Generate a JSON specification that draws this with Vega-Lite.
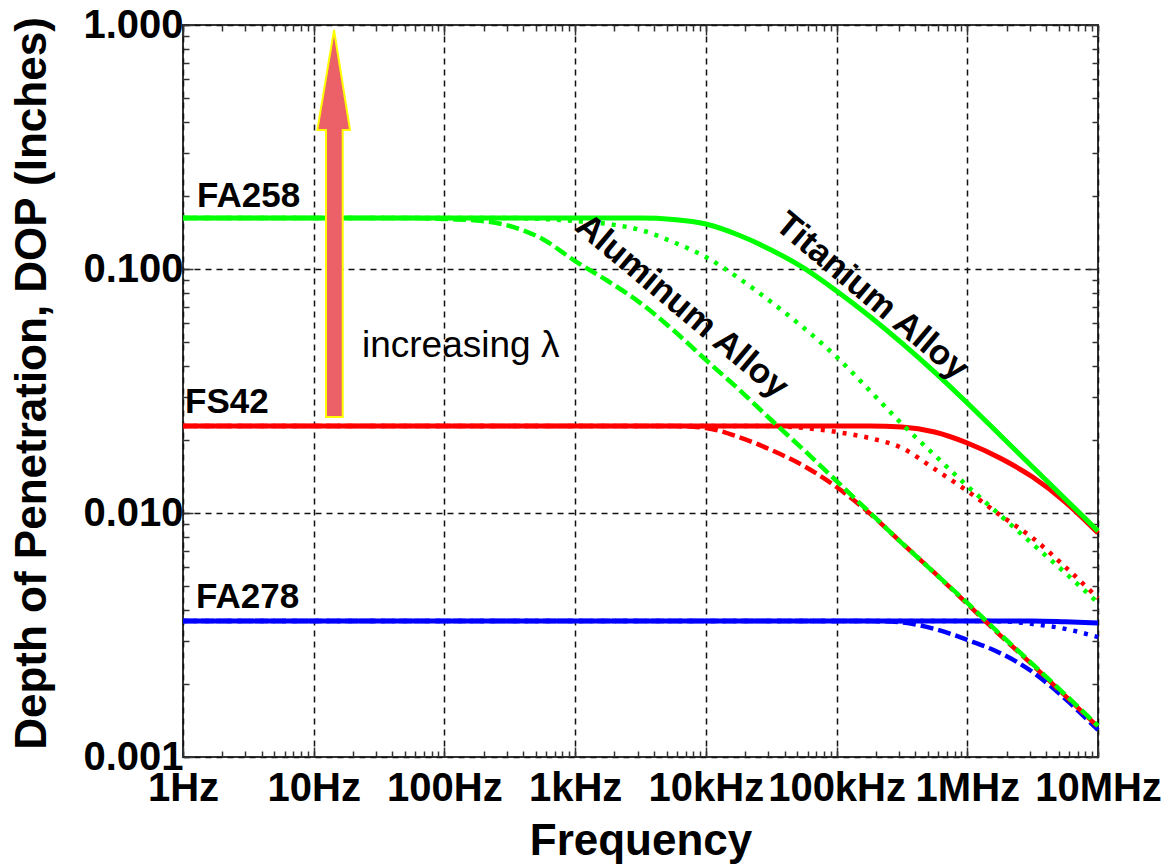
{
  "$schema": "https://vega.github.io/schema/vega-lite/v6.json",
  "width": 915,
  "height": 732,
  "autosize": {"type": "none"},
  "padding": {"left": 183, "top": 25, "right": 74, "bottom": 108},
  "background": "white",
  "config": {
    "view": {"stroke": "#333333", "strokeWidth": 2},
    "font": "Liberation Sans"
  },
  "datasets": {
    "curves": [
      {"probe": "FA278", "alloy": "Aluminum", "f": 1, "dop": 0.00361},
      {"probe": "FA278", "alloy": "Aluminum", "f": 177827.9, "dop": 0.00361},
      {"probe": "FA278", "alloy": "Aluminum", "f": 316227.8, "dop": 0.00356},
      {"probe": "FA278", "alloy": "Aluminum", "f": 562341.3, "dop": 0.00335},
      {"probe": "FA278", "alloy": "Aluminum", "f": 1000000, "dop": 0.00302},
      {"probe": "FA278", "alloy": "Aluminum", "f": 1778279, "dop": 0.00267},
      {"probe": "FA278", "alloy": "Aluminum", "f": 3162278, "dop": 0.00223},
      {"probe": "FA278", "alloy": "Aluminum", "f": 5623413, "dop": 0.00173},
      {"probe": "FA278", "alloy": "Aluminum", "f": 10000000, "dop": 0.00129},

      {"probe": "FA278", "alloy": "Intermediate", "f": 1, "dop": 0.00361},
      {"probe": "FA278", "alloy": "Intermediate", "f": 1000000, "dop": 0.00361},
      {"probe": "FA278", "alloy": "Intermediate", "f": 1778279, "dop": 0.0036},
      {"probe": "FA278", "alloy": "Intermediate", "f": 3162278, "dop": 0.00351},
      {"probe": "FA278", "alloy": "Intermediate", "f": 5623413, "dop": 0.00335},
      {"probe": "FA278", "alloy": "Intermediate", "f": 10000000, "dop": 0.0031},

      {"probe": "FA278", "alloy": "Titanium", "f": 1, "dop": 0.00361},
      {"probe": "FA278", "alloy": "Titanium", "f": 3162278, "dop": 0.00361},
      {"probe": "FA278", "alloy": "Titanium", "f": 5623413, "dop": 0.00358},
      {"probe": "FA278", "alloy": "Titanium", "f": 10000000, "dop": 0.00354},

      {"probe": "FS42", "alloy": "Aluminum", "f": 1, "dop": 0.02273},
      {"probe": "FS42", "alloy": "Aluminum", "f": 5623.4, "dop": 0.02273},
      {"probe": "FS42", "alloy": "Aluminum", "f": 10000, "dop": 0.02231},
      {"probe": "FS42", "alloy": "Aluminum", "f": 17782.8, "dop": 0.02049},
      {"probe": "FS42", "alloy": "Aluminum", "f": 31622.8, "dop": 0.01812},
      {"probe": "FS42", "alloy": "Aluminum", "f": 56234.1, "dop": 0.01558},
      {"probe": "FS42", "alloy": "Aluminum", "f": 100000, "dop": 0.01278},
      {"probe": "FS42", "alloy": "Aluminum", "f": 177827.9, "dop": 0.01},
      {"probe": "FS42", "alloy": "Aluminum", "f": 316227.8, "dop": 0.00753},
      {"probe": "FS42", "alloy": "Aluminum", "f": 562341.3, "dop": 0.00568},
      {"probe": "FS42", "alloy": "Aluminum", "f": 1000000, "dop": 0.00424},
      {"probe": "FS42", "alloy": "Aluminum", "f": 1778279, "dop": 0.00316},
      {"probe": "FS42", "alloy": "Aluminum", "f": 3162278, "dop": 0.00238},
      {"probe": "FS42", "alloy": "Aluminum", "f": 5623413, "dop": 0.00178},
      {"probe": "FS42", "alloy": "Aluminum", "f": 10000000, "dop": 0.00133},

      {"probe": "FS42", "alloy": "Intermediate", "f": 1, "dop": 0.02273},
      {"probe": "FS42", "alloy": "Intermediate", "f": 31622.8, "dop": 0.02273},
      {"probe": "FS42", "alloy": "Intermediate", "f": 56234.1, "dop": 0.02231},
      {"probe": "FS42", "alloy": "Intermediate", "f": 100000, "dop": 0.02148},
      {"probe": "FS42", "alloy": "Intermediate", "f": 177827.9, "dop": 0.0203},
      {"probe": "FS42", "alloy": "Intermediate", "f": 316227.8, "dop": 0.01847},
      {"probe": "FS42", "alloy": "Intermediate", "f": 562341.3, "dop": 0.01515},
      {"probe": "FS42", "alloy": "Intermediate", "f": 1000000, "dop": 0.01231},
      {"probe": "FS42", "alloy": "Intermediate", "f": 1778279, "dop": 0.00981},
      {"probe": "FS42", "alloy": "Intermediate", "f": 3162278, "dop": 0.0079},
      {"probe": "FS42", "alloy": "Intermediate", "f": 5623413, "dop": 0.00601},
      {"probe": "FS42", "alloy": "Intermediate", "f": 10000000, "dop": 0.00448},

      {"probe": "FS42", "alloy": "Titanium", "f": 1, "dop": 0.02273},
      {"probe": "FS42", "alloy": "Titanium", "f": 177827.9, "dop": 0.02273},
      {"probe": "FS42", "alloy": "Titanium", "f": 316227.8, "dop": 0.02252},
      {"probe": "FS42", "alloy": "Titanium", "f": 562341.3, "dop": 0.02148},
      {"probe": "FS42", "alloy": "Titanium", "f": 1000000, "dop": 0.01936},
      {"probe": "FS42", "alloy": "Titanium", "f": 1778279, "dop": 0.0168},
      {"probe": "FS42", "alloy": "Titanium", "f": 3162278, "dop": 0.01404},
      {"probe": "FS42", "alloy": "Titanium", "f": 5623413, "dop": 0.01109},
      {"probe": "FS42", "alloy": "Titanium", "f": 10000000, "dop": 0.00828},

      {"probe": "FA258", "alloy": "Aluminum", "f": 1, "dop": 0.1618},
      {"probe": "FA258", "alloy": "Aluminum", "f": 56.23, "dop": 0.1618},
      {"probe": "FA258", "alloy": "Aluminum", "f": 100, "dop": 0.1603},
      {"probe": "FA258", "alloy": "Aluminum", "f": 177.83, "dop": 0.158},
      {"probe": "FA258", "alloy": "Aluminum", "f": 316.23, "dop": 0.15},
      {"probe": "FA258", "alloy": "Aluminum", "f": 562.34, "dop": 0.1327},
      {"probe": "FA258", "alloy": "Aluminum", "f": 1000, "dop": 0.1078},
      {"probe": "FA258", "alloy": "Aluminum", "f": 1778.3, "dop": 0.0893},
      {"probe": "FA258", "alloy": "Aluminum", "f": 3162.3, "dop": 0.0725},
      {"probe": "FA258", "alloy": "Aluminum", "f": 5623.4, "dop": 0.0562},
      {"probe": "FA258", "alloy": "Aluminum", "f": 10000, "dop": 0.0424},
      {"probe": "FA258", "alloy": "Aluminum", "f": 17782.8, "dop": 0.0322},
      {"probe": "FA258", "alloy": "Aluminum", "f": 31622.8, "dop": 0.02405},
      {"probe": "FA258", "alloy": "Aluminum", "f": 56234.1, "dop": 0.01812},
      {"probe": "FA258", "alloy": "Aluminum", "f": 100000, "dop": 0.01352},
      {"probe": "FA258", "alloy": "Aluminum", "f": 177827.9, "dop": 0.01009},
      {"probe": "FA258", "alloy": "Aluminum", "f": 316227.8, "dop": 0.00753},
      {"probe": "FA258", "alloy": "Aluminum", "f": 562341.3, "dop": 0.00568},
      {"probe": "FA258", "alloy": "Aluminum", "f": 1000000, "dop": 0.00428},
      {"probe": "FA258", "alloy": "Aluminum", "f": 1778279, "dop": 0.00319},
      {"probe": "FA258", "alloy": "Aluminum", "f": 3162278, "dop": 0.0024},
      {"probe": "FA258", "alloy": "Aluminum", "f": 5623413, "dop": 0.0018},
      {"probe": "FA258", "alloy": "Aluminum", "f": 10000000, "dop": 0.00134},

      {"probe": "FA258", "alloy": "Intermediate", "f": 1, "dop": 0.1618},
      {"probe": "FA258", "alloy": "Intermediate", "f": 316.23, "dop": 0.1618},
      {"probe": "FA258", "alloy": "Intermediate", "f": 562.34, "dop": 0.1603},
      {"probe": "FA258", "alloy": "Intermediate", "f": 1000, "dop": 0.1573},
      {"probe": "FA258", "alloy": "Intermediate", "f": 1778.3, "dop": 0.1529},
      {"probe": "FA258", "alloy": "Intermediate", "f": 3162.3, "dop": 0.1445},
      {"probe": "FA258", "alloy": "Intermediate", "f": 5623.4, "dop": 0.129},
      {"probe": "FA258", "alloy": "Intermediate", "f": 10000, "dop": 0.112},
      {"probe": "FA258", "alloy": "Intermediate", "f": 17782.8, "dop": 0.0919},
      {"probe": "FA258", "alloy": "Intermediate", "f": 31622.8, "dop": 0.0732},
      {"probe": "FA258", "alloy": "Intermediate", "f": 56234.1, "dop": 0.0573},
      {"probe": "FA258", "alloy": "Intermediate", "f": 100000, "dop": 0.0436},
      {"probe": "FA258", "alloy": "Intermediate", "f": 177827.9, "dop": 0.0319},
      {"probe": "FA258", "alloy": "Intermediate", "f": 316227.8, "dop": 0.02316},
      {"probe": "FA258", "alloy": "Intermediate", "f": 562341.3, "dop": 0.01728},
      {"probe": "FA258", "alloy": "Intermediate", "f": 1000000, "dop": 0.0129},
      {"probe": "FA258", "alloy": "Intermediate", "f": 1778279, "dop": 0.00981},
      {"probe": "FA258", "alloy": "Intermediate", "f": 3162278, "dop": 0.00746},
      {"probe": "FA258", "alloy": "Intermediate", "f": 5623413, "dop": 0.00568},
      {"probe": "FA258", "alloy": "Intermediate", "f": 10000000, "dop": 0.00428},

      {"probe": "FA258", "alloy": "Titanium", "f": 1, "dop": 0.1618},
      {"probe": "FA258", "alloy": "Titanium", "f": 3162.3, "dop": 0.1618},
      {"probe": "FA258", "alloy": "Titanium", "f": 5623.4, "dop": 0.1596},
      {"probe": "FA258", "alloy": "Titanium", "f": 10000, "dop": 0.1529},
      {"probe": "FA258", "alloy": "Titanium", "f": 17782.8, "dop": 0.1378},
      {"probe": "FA258", "alloy": "Titanium", "f": 31622.8, "dop": 0.1197},
      {"probe": "FA258", "alloy": "Titanium", "f": 56234.1, "dop": 0.1009},
      {"probe": "FA258", "alloy": "Titanium", "f": 100000, "dop": 0.0813},
      {"probe": "FA258", "alloy": "Titanium", "f": 177827.9, "dop": 0.0642},
      {"probe": "FA258", "alloy": "Titanium", "f": 316227.8, "dop": 0.0497},
      {"probe": "FA258", "alloy": "Titanium", "f": 562341.3, "dop": 0.0378},
      {"probe": "FA258", "alloy": "Titanium", "f": 1000000, "dop": 0.02824},
      {"probe": "FA258", "alloy": "Titanium", "f": 1778279, "dop": 0.02088},
      {"probe": "FA258", "alloy": "Titanium", "f": 3162278, "dop": 0.01543},
      {"probe": "FA258", "alloy": "Titanium", "f": 5623413, "dop": 0.01141},
      {"probe": "FA258", "alloy": "Titanium", "f": 10000000, "dop": 0.00844}
    ],
    "arrow": [
      {"f": 12.42, "f2": 16.67, "dop": 0.02473},
      {"f": 12.42, "f2": 16.67, "dop": 0.3713},
      {"f": 10.66, "f2": 18.96, "dop": 0.3716},
      {"f": 14.3, "f2": 14.3, "dop": 0.954}
    ],
    "probes": [
      {"f": 1.28, "dop": 0.1795, "text": "FA258"},
      {"f": 1.036, "dop": 0.0257, "text": "FS42"},
      {"f": 1.257, "dop": 0.00408, "text": "FA278"}
    ],
    "note": [
      {"f": 23.4, "dop": 0.0436, "text": "increasing λ"}
    ],
    "aluminum": [
      {"f": 6577, "dop": 0.0705, "text": "Aluminum Alloy"}
    ],
    "titanium": [
      {"f": 187000, "dop": 0.0775, "text": "Titanium Alloy"}
    ]
  },
  "layer": [
    {
      "encoding": {
        "x": {
          "field": "f",
          "type": "quantitative",
          "scale": {"type": "log", "domain": [1, 10000000], "nice": false},
          "axis": {
            "orient": "bottom",
            "values": [1,2,3,4,5,6,7,8,9,10,20,30,40,50,60,70,80,90,100,200,300,400,500,600,700,800,900,1000,2000,3000,4000,5000,6000,7000,8000,9000,10000,20000,30000,40000,50000,60000,70000,80000,90000,100000,200000,300000,400000,500000,600000,700000,800000,900000,1000000,2000000,3000000,4000000,5000000,6000000,7000000,8000000,9000000,10000000],
            "labelExpr": "abs(log(datum.value)/LN10 - round(log(datum.value)/LN10)) < 0.000001 ? ['1Hz','10Hz','100Hz','1kHz','10kHz','100kHz','1MHz','10MHz'][round(log(datum.value)/LN10)] : ''",
            "labelFont": "Liberation Sans",
            "labelFontWeight": "bold",
            "labelFontSize": 40,
            "labelColor": "black",
            "labelPadding": 21,
            "labelOverlap": false,
            "labelFlush": false,
            "labelBound": false,
            "domain": false,
            "tickColor": "#333333",
            "tickWidth": 1.5,
            "tickSize": {"condition": {"test": "abs(log(datum.value)/LN10 - round(log(datum.value)/LN10)) < 0.000001", "value": -10}, "value": -6},
            "grid": true,
            "gridColor": "#111111",
            "gridDash": [6, 5],
            "gridWidth": 1.5,
            "gridOpacity": {"condition": {"test": "abs(log(datum.value)/LN10 - round(log(datum.value)/LN10)) < 0.000001", "value": 1}, "value": 0},
            "title": "Frequency",
            "titleFont": "Liberation Sans",
            "titleFontWeight": "bold",
            "titleFontSize": 44,
            "titleColor": "black",
            "titleBaseline": "alphabetic",
            "titleY": 97
          }
        },
        "y": {
          "field": "dop",
          "type": "quantitative",
          "scale": {"type": "log", "domain": [0.001, 1], "nice": false},
          "axis": {
            "orient": "left",
            "values": [0.001,0.002,0.003,0.004,0.005,0.006,0.007,0.008,0.009,0.01,0.02,0.03,0.04,0.05,0.06,0.07,0.08,0.09,0.1,0.2,0.3,0.4,0.5,0.6,0.7,0.8,0.9,1],
            "labelExpr": "abs(log(datum.value)/LN10 - round(log(datum.value)/LN10)) < 0.000001 ? format(datum.value, '.3f') : ''",
            "labelFont": "Liberation Sans",
            "labelFontWeight": "bold",
            "labelFontSize": 40,
            "labelColor": "black",
            "labelPadding": 10,
            "labelOverlap": false,
            "labelFlush": false,
            "labelBound": false,
            "domain": false,
            "tickColor": "#333333",
            "tickWidth": 1.5,
            "tickSize": {"condition": {"test": "abs(log(datum.value)/LN10 - round(log(datum.value)/LN10)) < 0.000001", "value": -10}, "value": -6},
            "grid": true,
            "gridColor": "#111111",
            "gridDash": [6, 5],
            "gridWidth": 1.5,
            "gridOpacity": {"condition": {"test": "abs(log(datum.value)/LN10 - round(log(datum.value)/LN10)) < 0.000001", "value": 1}, "value": 0},
            "title": "Depth of Penetration, DOP (Inches)",
            "titleFont": "Liberation Sans",
            "titleFontWeight": "bold",
            "titleFontSize": 44,
            "titleColor": "black",
            "titleBaseline": "alphabetic",
            "titleX": -138,
            "titleY": 358
          }
        }
      },
      "layer": [
        {"data": {"name": "curves"}, "transform": [{"filter": "datum.probe === 'FA278' && datum.alloy === 'Aluminum'"}],
         "mark": {"type": "line", "color": "#0000ff", "strokeWidth": 4.5, "strokeDash": [13, 5], "interpolate": "monotone"}},
        {"data": {"name": "curves"}, "transform": [{"filter": "datum.probe === 'FA278' && datum.alloy === 'Intermediate'"}],
         "mark": {"type": "line", "color": "#0000ff", "strokeWidth": 4.5, "strokeDash": [4, 7], "interpolate": "monotone"}},
        {"data": {"name": "curves"}, "transform": [{"filter": "datum.probe === 'FA278' && datum.alloy === 'Titanium'"}],
         "mark": {"type": "line", "color": "#0000ff", "strokeWidth": 5, "interpolate": "monotone"}},
        {"data": {"name": "curves"}, "transform": [{"filter": "datum.probe === 'FS42' && datum.alloy === 'Aluminum'"}],
         "mark": {"type": "line", "color": "#ff0000", "strokeWidth": 4.5, "strokeDash": [13, 5], "interpolate": "monotone"}},
        {"data": {"name": "curves"}, "transform": [{"filter": "datum.probe === 'FS42' && datum.alloy === 'Intermediate'"}],
         "mark": {"type": "line", "color": "#ff0000", "strokeWidth": 4.5, "strokeDash": [4, 7], "interpolate": "monotone"}},
        {"data": {"name": "curves"}, "transform": [{"filter": "datum.probe === 'FS42' && datum.alloy === 'Titanium'"}],
         "mark": {"type": "line", "color": "#ff0000", "strokeWidth": 5, "interpolate": "monotone"}},
        {"data": {"name": "curves"}, "transform": [{"filter": "datum.probe === 'FA258' && datum.alloy === 'Aluminum'"}],
         "mark": {"type": "line", "color": "#00ff00", "strokeWidth": 4.5, "strokeDash": [13, 5], "interpolate": "monotone"}},
        {"data": {"name": "curves"}, "transform": [{"filter": "datum.probe === 'FA258' && datum.alloy === 'Intermediate'"}],
         "mark": {"type": "line", "color": "#00ff00", "strokeWidth": 4.5, "strokeDash": [4, 7], "interpolate": "monotone"}},
        {"data": {"name": "curves"}, "transform": [{"filter": "datum.probe === 'FA258' && datum.alloy === 'Titanium'"}],
         "mark": {"type": "line", "color": "#00ff00", "strokeWidth": 5, "interpolate": "monotone"}},
        {"data": {"name": "arrow"},
         "mark": {"type": "area", "orient": "horizontal", "fill": "#ec6068", "stroke": "#ffff00", "strokeWidth": 2, "fillOpacity": 1},
         "encoding": {"x2": {"field": "f2"}}},
        {"data": {"name": "probes"},
         "mark": {"type": "text", "align": "left", "baseline": "alphabetic", "font": "Liberation Sans", "fontWeight": "bold", "fontSize": 35, "color": "black"},
         "encoding": {"text": {"field": "text"}}},
        {"data": {"name": "note"},
         "mark": {"type": "text", "align": "left", "baseline": "alphabetic", "font": "Liberation Sans", "fontSize": 37, "color": "black"},
         "encoding": {"text": {"field": "text"}}},
        {"data": {"name": "aluminum"},
         "mark": {"type": "text", "align": "center", "baseline": "middle", "angle": 40, "font": "Liberation Sans", "fontWeight": "bold", "fontSize": 35, "color": "black"},
         "encoding": {"text": {"field": "text"}}},
        {"data": {"name": "titanium"},
         "mark": {"type": "text", "align": "center", "baseline": "middle", "angle": 40, "font": "Liberation Sans", "fontWeight": "bold", "fontSize": 35, "color": "black"},
         "encoding": {"text": {"field": "text"}}}
      ]
    },
    {
      "data": {"name": "curves"},
      "mark": {"type": "point", "opacity": 0},
      "encoding": {
        "x": {
          "field": "f",
          "type": "quantitative",
          "scale": {"type": "log", "domain": [1, 10000000], "nice": false},
          "axis": {
            "orient": "top",
            "values": [1,2,3,4,5,6,7,8,9,10,20,30,40,50,60,70,80,90,100,200,300,400,500,600,700,800,900,1000,2000,3000,4000,5000,6000,7000,8000,9000,10000,20000,30000,40000,50000,60000,70000,80000,90000,100000,200000,300000,400000,500000,600000,700000,800000,900000,1000000,2000000,3000000,4000000,5000000,6000000,7000000,8000000,9000000,10000000],
            "labels": false,
            "domain": false,
            "grid": false,
            "title": null,
            "tickColor": "#333333",
            "tickWidth": 1.5,
            "tickSize": {"condition": {"test": "abs(log(datum.value)/LN10 - round(log(datum.value)/LN10)) < 0.000001", "value": -10}, "value": -6}
          }
        },
        "y": {
          "field": "dop",
          "type": "quantitative",
          "scale": {"type": "log", "domain": [0.001, 1], "nice": false},
          "axis": {
            "orient": "right",
            "values": [0.001,0.002,0.003,0.004,0.005,0.006,0.007,0.008,0.009,0.01,0.02,0.03,0.04,0.05,0.06,0.07,0.08,0.09,0.1,0.2,0.3,0.4,0.5,0.6,0.7,0.8,0.9,1],
            "labels": false,
            "domain": false,
            "grid": false,
            "title": null,
            "tickColor": "#333333",
            "tickWidth": 1.5,
            "tickSize": {"condition": {"test": "abs(log(datum.value)/LN10 - round(log(datum.value)/LN10)) < 0.000001", "value": -10}, "value": -6}
          }
        }
      }
    }
  ],
  "resolve": {"axis": {"x": "independent", "y": "independent"}}
}
